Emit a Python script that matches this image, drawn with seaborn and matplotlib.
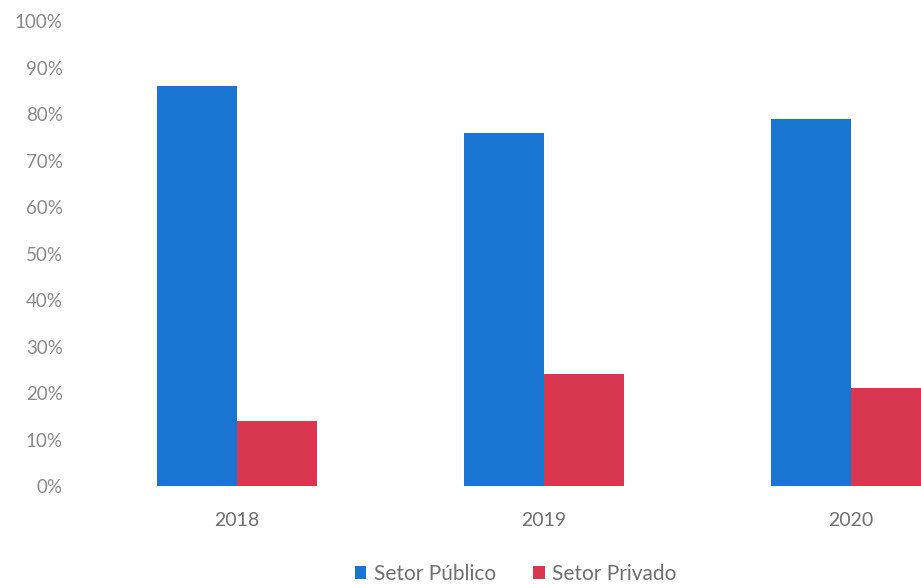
import matplotlib
matplotlib.use("Agg")
import matplotlib.pyplot as plt
import seaborn as sns
import pandas as pd
from matplotlib.patches import Patch
from matplotlib.ticker import PercentFormatter

years = ["2018", "2019", "2020"]
publico = [0.86, 0.76, 0.79]
privado = [0.14, 0.24, 0.21]
series = ["Setor Público", "Setor Privado"]
colors = ["#1A74D2", "#D9374F"]

df = pd.DataFrame({
    "Ano": years * 2,
    "Valor": publico + privado,
    "Setor": [series[0]] * 3 + [series[1]] * 3,
})

sns.set_style("white")
plt.rcParams["font.family"] = ["Lato", "DejaVu Sans"]

fig = plt.figure(figsize=(9.21, 5.84), dpi=100)
ax = fig.add_axes([0.0907, 0.1678, 1.0, 0.796])

sns.barplot(data=df, x="Ano", y="Valor", hue="Setor", palette=colors,
            width=0.52, gap=0, ax=ax, legend=False, saturation=1, linewidth=0)

ax.set_xlim(-0.5, 2.5)
ax.set_ylim(0, 1.0)
ax.set_yticks([i / 10 for i in range(11)])
ax.yaxis.set_major_formatter(PercentFormatter(1.0, decimals=0))
ax.set_xlabel("")
ax.set_ylabel("")
for s in ax.spines.values():
    s.set_visible(False)
ax.tick_params(axis="y", length=0, pad=15, labelsize=13.5, labelcolor="#8a8a8a")
ax.tick_params(axis="x", length=0, pad=19, labelsize=14, labelcolor="#707070")

handles = [Patch(facecolor=c, edgecolor="none") for c in colors]
fig.legend(handles, series, loc="center", bbox_to_anchor=(0.56, 0.017),
           ncol=2, frameon=False, fontsize=15, handlelength=0.55, handleheight=0.55,
           handletextpad=0.35, columnspacing=1.8, labelcolor="#707070")

fig.savefig("out.png", dpi=100)
